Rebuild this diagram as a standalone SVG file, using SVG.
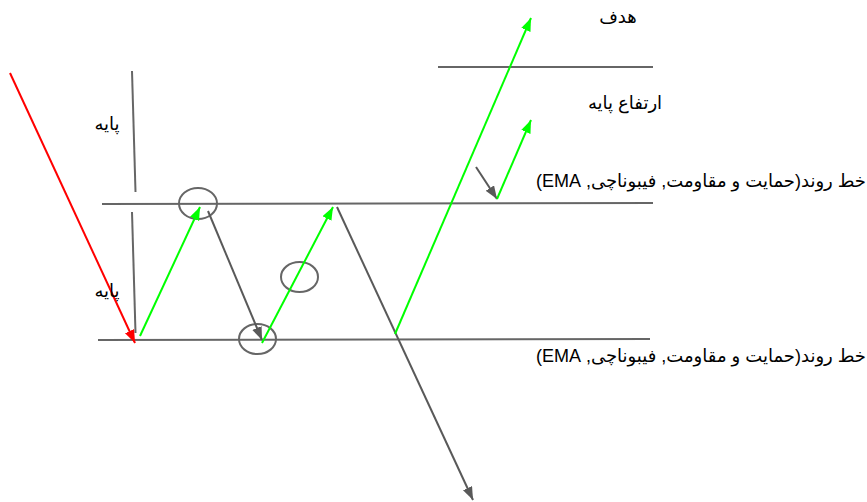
<svg xmlns="http://www.w3.org/2000/svg" width="867" height="502" viewBox="0 0 867 502">
<style>
.ln{stroke:#666;stroke-width:2;fill:none}
.gr{stroke:#00ff00;stroke-width:2;fill:none}
.dk{stroke:#595959;stroke-width:2;fill:none}
.rd{stroke:#ff0000;stroke-width:2;fill:none}
.cr{stroke:#666;stroke-width:2;fill:none}
.t{font-family:"Liberation Sans","DejaVu Sans",Arial,sans-serif;font-size:18px;fill:#000}
</style>
<defs>
<marker id="ag" markerUnits="userSpaceOnUse" markerWidth="14" markerHeight="12" refX="13" refY="5" orient="auto"><path d="M0,0 L13,5 L0,10 z" fill="#00ff00"/></marker>
<marker id="ak" markerUnits="userSpaceOnUse" markerWidth="14" markerHeight="12" refX="13" refY="5" orient="auto"><path d="M0,0 L13,5 L0,10 z" fill="#595959"/></marker>
<marker id="ar" markerUnits="userSpaceOnUse" markerWidth="14" markerHeight="12" refX="13" refY="5" orient="auto"><path d="M0,0 L13,5 L0,10 z" fill="#ff0000"/></marker>
</defs>
<g id="levels">
<line class="ln" x1="438" y1="67" x2="653" y2="67"/>
<line class="ln" x1="102" y1="204" x2="653" y2="203"/>
<line class="ln" x1="98" y1="340" x2="650" y2="339"/>
<line class="ln" x1="132" y1="71" x2="135.5" y2="192"/>
<line class="ln" x1="132" y1="212" x2="135.5" y2="333"/>
</g>
<g id="circles">
<ellipse class="cr" cx="198" cy="203.5" rx="19" ry="15.5"/>
<ellipse class="cr" cx="299.5" cy="277" rx="18.5" ry="15"/>
<ellipse class="cr" cx="257.5" cy="339" rx="18.5" ry="15"/>
</g>
<g id="connectors">
<line class="rd" x1="10" y1="73" x2="135" y2="343" marker-end="url(#ar)"/>
<line class="gr" x1="140" y1="336" x2="200" y2="207" marker-end="url(#ag)"/>
<line class="dk" x1="208" y1="211" x2="262" y2="340" marker-end="url(#ak)"/>
<line class="gr" x1="262" y1="343" x2="333" y2="207" marker-end="url(#ag)"/>
<line class="dk" x1="337" y1="207" x2="473" y2="500" marker-end="url(#ak)"/>
<line class="gr" x1="395" y1="334" x2="531" y2="18" marker-end="url(#ag)"/>
<line class="dk" x1="476" y1="167" x2="497" y2="199" marker-end="url(#ak)"/>
<line class="gr" x1="497" y1="199" x2="531" y2="120" marker-end="url(#ag)"/>
</g>
<g id="labels">
<text class="t" x="107" y="130" text-anchor="middle">پایه</text>
<text class="t" x="107" y="297" text-anchor="middle">پایه</text>
<text class="t" x="618" y="23" text-anchor="middle">هدف</text>
<text class="t" x="625" y="109" text-anchor="middle">ارتفاع پایه</text>
<text class="t" x="866" y="187" direction="rtl" text-anchor="start">خط روند(حمایت و مقاومت, فیبوناچی, EMA)</text>
<text class="t" x="866" y="362" direction="rtl" text-anchor="start">خط روند(حمایت و مقاومت, فیبوناچی, EMA)</text>
</g>
</svg>
